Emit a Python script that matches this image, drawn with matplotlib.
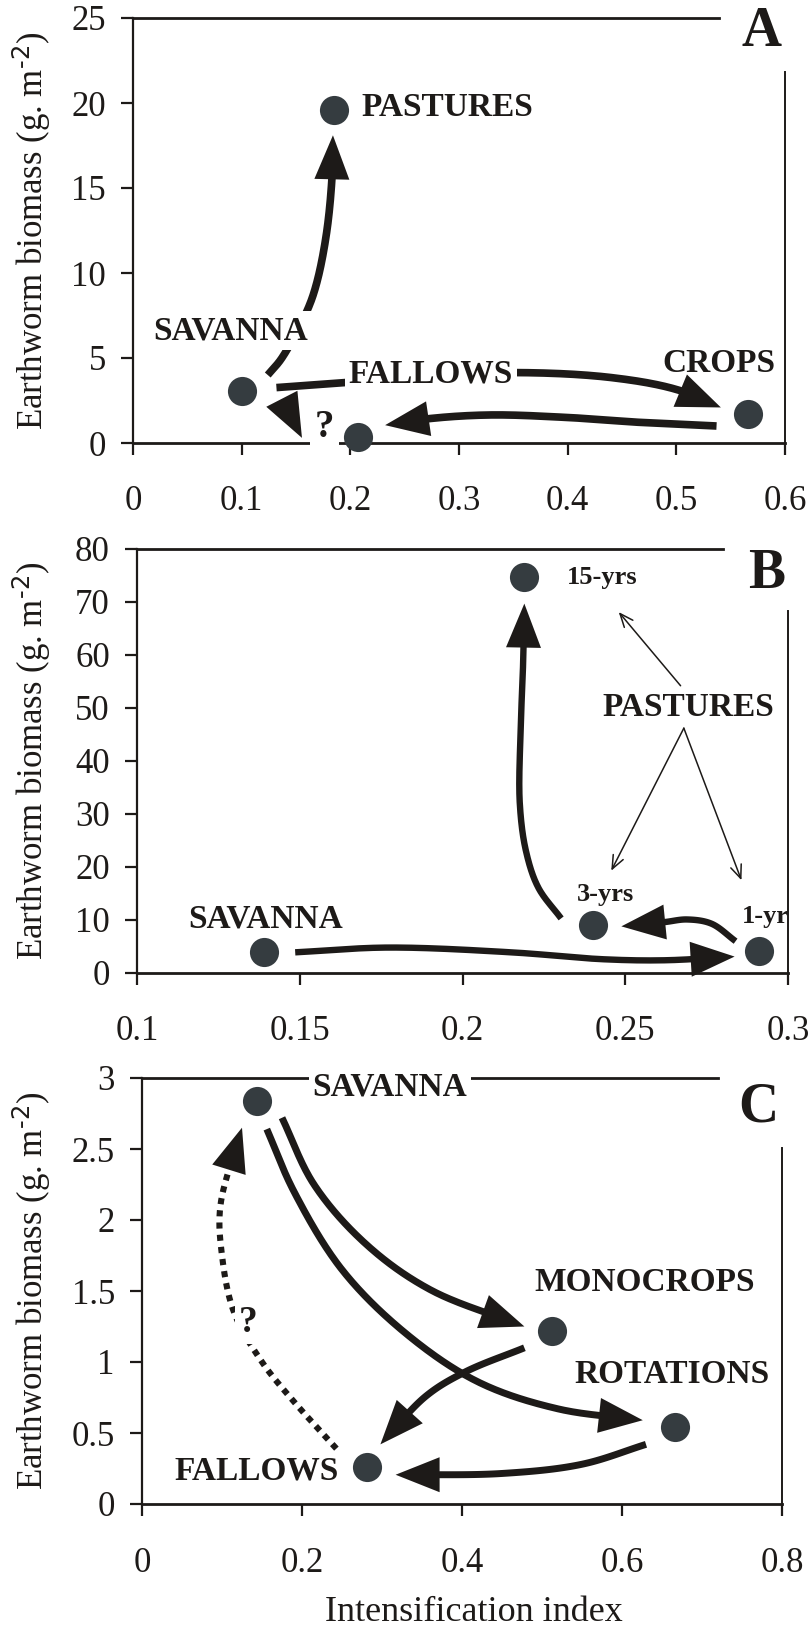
import numpy as np
import matplotlib.pyplot as plt
from matplotlib.patches import Polygon

plt.rcParams['font.family'] = ['Liberation Serif', 'DejaVu Serif']
plt.rcParams['mathtext.default'] = 'regular'

INK = '#1d1a18'
DOT = '#353c40'

# --- panel A: broad land-use classes ---
a_names = ['SAVANNA', 'PASTURES', 'FALLOWS', 'CROPS']
a_x = [0.100, 0.185, 0.207, 0.566]
a_y = [3.06, 19.6, 0.35, 1.70]
a_xticks = [0, 0.1, 0.2, 0.3, 0.4, 0.5, 0.6]
a_xlabels = ['0', '0.1', '0.2', '0.3', '0.4', '0.5', '0.6']
a_yticks = [0, 5, 10, 15, 20, 25]
a_ylabels = ['0', '5', '10', '15', '20', '25']

# --- panel B: pasture age ---
b_names = ['SAVANNA', '15-yrs', '3-yrs', '1-yr']
b_x = [0.139, 0.219, 0.240, 0.291]
b_y = [3.9, 74.7, 9.1, 4.2]
b_xticks = [0.1, 0.15, 0.2, 0.25, 0.3]
b_xlabels = ['0.1', '0.15', '0.2', '0.25', '0.3']
b_yticks = [0, 10, 20, 30, 40, 50, 60, 70, 80]
b_ylabels = ['0', '10', '20', '30', '40', '50', '60', '70', '80']

# --- panel C: cropping systems ---
c_names = ['SAVANNA', 'MONOCROPS', 'ROTATIONS', 'FALLOWS']
c_x = [0.144, 0.513, 0.666, 0.281]
c_y = [2.84, 1.215, 0.545, 0.263]
c_xticks = [0, 0.2, 0.4, 0.6, 0.8]
c_xlabels = ['0', '0.2', '0.4', '0.6', '0.8']
c_yticks = [0, 0.5, 1, 1.5, 2, 2.5, 3]
c_ylabels = ['0', '0.5', '1', '1.5', '2', '2.5', '3']

# transitions between states, as waypoints in data units
a_flows = [
    [(0.124, 4.0), (0.137, 5.0), (0.160, 7.75), (0.169, 9.4), (0.178, 12.3), (0.183, 15.5), (0.184, 18.1)],
    [(0.132, 3.26), (0.195, 3.55), (0.275, 3.95), (0.357, 4.14), (0.44, 3.85), (0.50, 3.15), (0.541, 2.09)],
    [(0.537, 1.0), (0.47, 1.2), (0.40, 1.5), (0.33, 1.65), (0.275, 1.45), (0.232, 1.05)],
    [(0.139, 2.35), (0.1555, 0.3)],
]
b_flows = [
    [(0.1486, 3.9), (0.177, 4.8), (0.215, 3.9), (0.243, 2.6), (0.262, 2.4), (0.2836, 3.1)],
    [(0.2839, 6.0), (0.2765, 9.3), (0.269, 10.1), (0.262, 9.6), (0.2488, 8.8)],
    [(0.2303, 10.3), (0.2233, 16.1), (0.2195, 23), (0.2176, 32), (0.2178, 45), (0.2186, 58), (0.219, 69.7)],
]
b_pointers = [
    [(0.267, 54.2), (0.248, 68.1)],
    [(0.268, 46.2), (0.2457, 19.3)],
    [(0.268, 46.2), (0.2857, 17.5)],
]
c_flows = [
    [(0.175, 2.72), (0.215, 2.25), (0.28, 1.83), (0.36, 1.51), (0.478, 1.25)],
    [(0.156, 2.64), (0.19, 2.2), (0.25, 1.65), (0.33, 1.2), (0.42, 0.86), (0.52, 0.67), (0.626, 0.59)],
    [(0.478, 1.10), (0.404, 0.93), (0.355, 0.76), (0.298, 0.42)],
    [(0.63, 0.42), (0.55, 0.28), (0.45, 0.215), (0.317, 0.206)],
]
c_dotted = [(0.243, 0.39), (0.19, 0.72), (0.15, 1.0), (0.115, 1.35), (0.1, 1.75),
            (0.098, 2.1), (0.125, 2.65)]


def catmull(p, n=40, alpha=0.5):
    # centripetal Catmull-Rom through the given points
    p = np.vstack([2 * p[0] - p[1], p, 2 * p[-1] - p[-2]])
    out = []
    for i in range(1, len(p) - 2):
        P0, P1, P2, P3 = p[i - 1], p[i], p[i + 1], p[i + 2]
        t0 = 0.0
        t1 = t0 + max(np.hypot(*(P1 - P0)), 1e-6) ** alpha
        t2 = t1 + max(np.hypot(*(P2 - P1)), 1e-6) ** alpha
        t3 = t2 + max(np.hypot(*(P3 - P2)), 1e-6) ** alpha
        t = np.linspace(t1, t2, n, endpoint=False)[:, None]
        A1 = (t1 - t) / (t1 - t0) * P0 + (t - t0) / (t1 - t0) * P1
        A2 = (t2 - t) / (t2 - t1) * P1 + (t - t1) / (t2 - t1) * P2
        A3 = (t3 - t) / (t3 - t2) * P2 + (t - t2) / (t3 - t2) * P3
        B1 = (t2 - t) / (t2 - t0) * A1 + (t - t0) / (t2 - t0) * A2
        B2 = (t3 - t) / (t3 - t1) * A2 + (t - t1) / (t3 - t1) * A3
        out.append((t2 - t) / (t2 - t1) * B1 + (t - t1) / (t2 - t1) * B2)
    out.append(p[-2][None])
    return np.vstack(out)


def flow(ax, pts, lw, hl=44, hw=17.5, ls='-'):
    # smooth curve in pixel space, then cut it where the head starts
    disp = catmull(ax.transData.transform(np.asarray(pts, float)))
    inv = ax.transData.inverted()
    dist = np.concatenate([[0], np.cumsum(np.hypot(*np.diff(disp, axis=0).T))])
    tip = disp[-1]
    cut = dist[-1] - hl
    if cut > 0:
        base = np.array([np.interp(cut, dist, disp[:, 0]), np.interp(cut, dist, disp[:, 1])])
        body = np.vstack([disp[dist < cut], base])
        u = (tip - base) / np.hypot(*(tip - base))
        body = np.vstack([body, base + u * 4])
        d = inv.transform(body)
        ax.plot(d[:, 0], d[:, 1], color=INK, lw=lw, ls=ls, solid_capstyle='butt',
                dash_capstyle='butt', clip_on=False, zorder=3)
    else:
        u = (tip - disp[0]) / np.hypot(*(tip - disp[0]))
        base = tip - u * hl
    n = np.array([-u[1], u[0]])
    head = inv.transform(np.array([tip, base + n * hw, base - n * hw]))
    ax.add_patch(Polygon(head, closed=True, fc=INK, ec='none', clip_on=False, zorder=3))


def pointer(ax, pts):
    ax.annotate('', xy=pts[1], xytext=pts[0],
                arrowprops=dict(arrowstyle='->,head_length=0.6,head_width=0.25',
                                color=INK, lw=1.1, mutation_scale=16,
                                shrinkA=0, shrinkB=0), zorder=3)


def label(ax, x, y, s, size=24, ha='center', box=False):
    kw = dict(fontsize=size, fontweight='bold', color=INK, ha=ha, va='center',
              zorder=6, clip_on=False)
    if box:
        kw['bbox'] = dict(boxstyle='square,pad=0.12', fc='white', ec='none')
    ax.text(x, y, s, **kw)


def frame(ax, xlim, ylim, xt, xl, yt, yl, top_end, right_start, letter, ly):
    ax.set_xlim(xlim)
    ax.set_ylim(ylim)
    ax.set_xticks(xt, xl)
    ax.set_yticks(yt, yl)
    ax.spines['top'].set_bounds(xlim[0], top_end)
    ax.spines['right'].set_bounds(ylim[0], right_start)
    for side, w in [('left', 1.6), ('bottom', 2.0), ('top', 2.0), ('right', 1.4)]:
        ax.spines[side].set_linewidth(w)
        ax.spines[side].set_color(INK)
    ax.tick_params(direction='out', length=8.6, width=1.6, color=INK,
                   labelsize=25, labelcolor=INK)
    ax.tick_params(axis='x', pad=22)
    ax.tick_params(axis='y', pad=11)
    ax.text(0.995, ly, letter, transform=ax.transAxes, ha='right', va='center',
            fontsize=40, fontweight='bold', color=INK)
    box = ax.get_position()
    fig.text(32 / 812, box.y0 + box.height / 2,
             r'Earthworm biomass (g. m$^{\text{-2}}$)', rotation=90,
             ha='center', va='center', fontsize=25, color=INK)


fig = plt.figure(figsize=(8.12, 16.28), dpi=100)
W, H = 812, 1628
axA = fig.add_axes([133 / W, 1 - 443 / H, 652 / W, 425 / H])
axB = fig.add_axes([137 / W, 1 - 973 / H, 651 / W, 424 / H])
axC = fig.add_axes([142 / W, 1 - 1504 / H, 640 / W, 426 / H])

frame(axA, (0, 0.6), (0, 25), a_xticks, a_xlabels, a_yticks, a_ylabels, 0.539, 21.8, 'A', 0.967)
frame(axB, (0.1, 0.3), (0, 80), b_xticks, b_xlabels, b_yticks, b_ylabels, 0.28, 68.3, 'B', 0.94)
frame(axC, (0, 0.8), (0, 3), c_xticks, c_xlabels, c_yticks, c_ylabels, 0.72, 2.51, 'C', 0.93)

# panel A
for pts in a_flows:
    flow(axA, pts, lw=5.5)
axA.scatter(a_x, a_y, s=440, color=DOT, zorder=4, clip_on=False, linewidths=0)
label(axA, 0.09, 6.6, a_names[0], box=True)
label(axA, 0.21, 19.75, a_names[1], ha='left')
label(axA, 0.274, 4.04, a_names[2], box=True)
label(axA, 0.539, 4.7, a_names[3])
label(axA, 0.176, 0.9, '?', size=28, box=True)

# panel B
for pts in b_flows:
    flow(axB, pts, lw=4.6)
for pts in b_pointers:
    pointer(axB, pts)
axB.scatter(b_x, b_y, s=440, color=DOT, zorder=4, clip_on=False, linewidths=0)
label(axB, 0.1394, 10.2, b_names[0])
label(axB, 0.232, 74.7, b_names[1], size=19, ha='left')
label(axB, 0.244, 14.9, b_names[2], size=19)
label(axB, 0.293, 10.6, b_names[3], size=19)
label(axB, 0.2695, 50.1, 'PASTURES')

# panel C
for pts in c_flows:
    flow(axC, pts, lw=5.0)
flow(axC, c_dotted, lw=4.4, ls=(0, (1, 1)))
axC.scatter(c_x, c_y, s=440, color=DOT, zorder=4, clip_on=False, linewidths=0)
label(axC, 0.31, 2.94, c_names[0], box=True)
label(axC, 0.628, 1.56, c_names[1])
label(axC, 0.663, 0.91, c_names[2])
label(axC, 0.143, 0.234, c_names[3])
label(axC, 0.133, 1.28, '?', size=27, box=True)

fig.text(474 / W, (H - 1621) / H, 'Intensification index', ha='center',
         va='baseline', fontsize=26, color=INK)

fig.savefig('out.png', dpi=100, facecolor='white')
